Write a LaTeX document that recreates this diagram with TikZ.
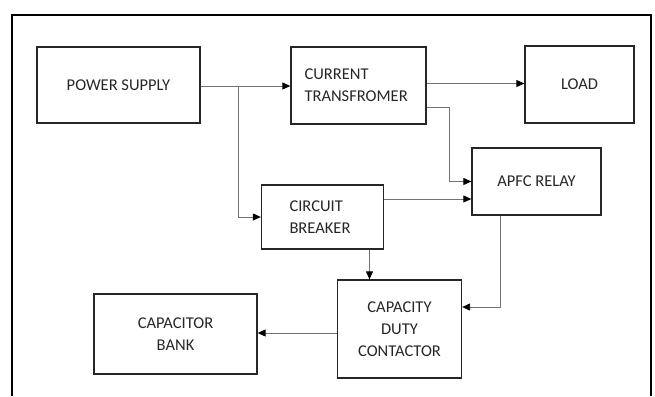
\documentclass[tikz,border=0pt]{standalone}
\usepackage{fontspec}
\setmainfont{Carlito}
\usetikzlibrary{arrows.meta}
\begin{document}
\begin{tikzpicture}[x=1pt,y=-1pt,
  blk/.style={draw=black!85,line width=1.3pt,inner sep=0pt,align=center,font=\fontsize{16.5}{22}\selectfont,text=black!85},
  conn/.style={draw=black!55,line width=0.9pt,-{Triangle[length=8pt,width=7pt,color=black]}}]
\useasboundingbox (0,0) rectangle (655,396);
\draw [black,line width=1.2pt] (12,396) -- (12,15) -- (651,15) -- (651,396);
\node [blk,minimum width=163pt,minimum height=76pt] (ps) at (118.5,85) {POWER SUPPLY};
\node [blk,minimum width=135pt,minimum height=77pt,text width=108pt,align=left] (ct) at (358.5,85.5) {CURRENT\\TRANSFROMER};
\node [blk,minimum width=109pt,minimum height=77pt] (load) at (579.5,84.5) {LOAD};
\node [blk,minimum width=129pt,minimum height=67pt] (apfc) at (536.5,181.5) {APFC RELAY};
\node [blk,minimum width=122pt,minimum height=64pt,text width=66pt,align=left] (cb) at (322.5,217) {CIRCUIT\\BREAKER};
\node [blk,minimum width=124pt,minimum height=98pt] (cdc) at (399.5,329) {CAPACITY\\DUTY\\CONTACTOR};
\node [blk,minimum width=163pt,minimum height=80pt] (bank) at (175.5,334) {CAPACITOR\\BANK};
\coordinate (split) at (238,86);
\coordinate (cbout) at ([yshift=18pt]cb.east);
\coordinate (cbdown) at ([xshift=47pt]cb.south);
\coordinate (cdcout) at ([yshift=-4pt]cdc.west);
\draw [conn] ([yshift=-1pt]ps.east) -- ([yshift=-1pt]ps.east -| ct.west);
\draw [conn] (split) |- (cb.west);
\draw [conn] ([yshift=2pt]ct.east) -- ([yshift=2pt]ct.east -| load.west);
\draw [conn] ([yshift=-21.5pt]ct.east) -- ++(23,0) |- (apfc.west);
\draw [conn] (cbout) -- (cbout -| apfc.west);
\draw [conn] (cbdown) -- (cbdown |- cdc.north);
\draw [conn] ([xshift=-36pt]apfc.south) |- ([yshift=22pt]cdc.east);
\draw [conn] (cdcout) -- (cdcout -| bank.east);
\end{tikzpicture}
\end{document}
